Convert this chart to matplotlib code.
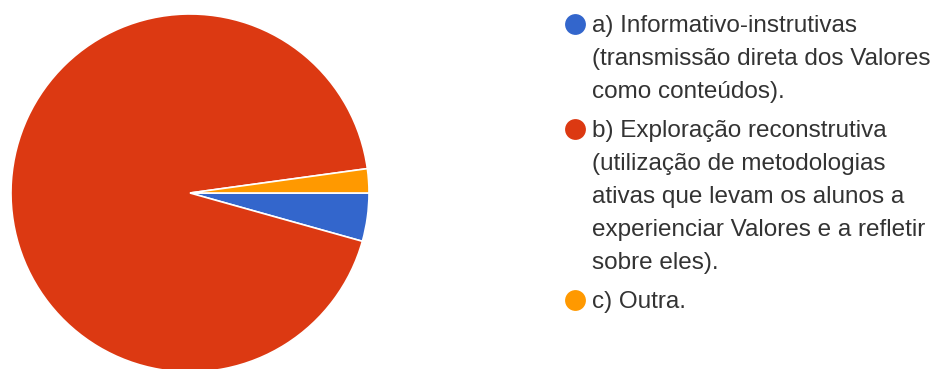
import matplotlib
matplotlib.use("Agg")
import matplotlib.pyplot as plt

# Respostas por opção (linhas do texto da legenda já quebradas)
labels = [
    ["a) Informativo-instrutivas",
     "(transmissão direta dos Valores",
     "como conteúdos)."],
    ["b) Exploração reconstrutiva",
     "(utilização de metodologias",
     "ativas que levam os alunos a",
     "experienciar Valores e a refletir",
     "sobre eles)."],
    ["c) Outra."],
]
counts = [2, 43, 1]
colors = ["#3366CC", "#DC3912", "#FF9900"]

W, H = 937, 369
fig = plt.figure(figsize=(W / 100, H / 100), dpi=100)
fig.patch.set_facecolor("white")

# pizza: centro (190, 193) px, raio 179 px
cx, cy, r = 190, 193, 179
ax = fig.add_axes([(cx - r) / W, (H - cy - r) / H, 2 * r / W, 2 * r / H])
ax.pie(counts, colors=colors, startangle=0, counterclock=False, radius=1,
       wedgeprops=dict(edgecolor="white", linewidth=1.2))
ax.set_xlim(-1, 1)
ax.set_ylim(-1, 1)
ax.set_aspect("equal")
ax.axis("off")

# legenda manual, posições em px a partir do topo
line_h = 33
item_gap = 39
marker_x, text_x = 575, 592
base = 32
for lines, col in zip(labels, colors):
    fig.lines.append(plt.Line2D([marker_x / W], [1 - (base - 8) / H], marker="o",
                                markersize=15, markeredgewidth=0, color=col,
                                transform=fig.transFigure))
    for i, txt in enumerate(lines):
        fig.text(text_x / W, 1 - (base + i * line_h) / H, txt, ha="left",
                 va="baseline", fontsize=17.5, family="Liberation Sans",
                 color="#333333")
    base += line_h * (len(lines) - 1) + item_gap

fig.savefig("out.png", dpi=100)
